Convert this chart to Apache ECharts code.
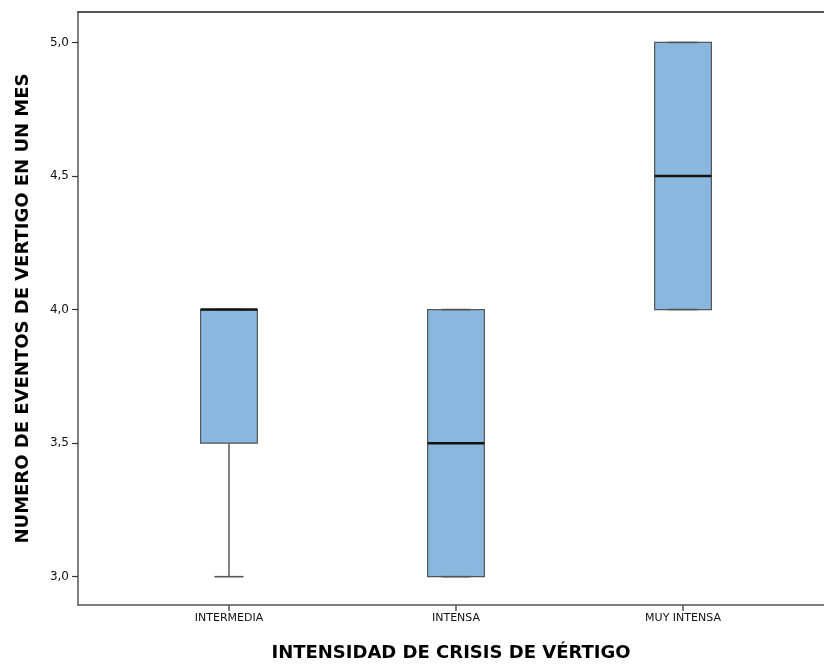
<!DOCTYPE html>
<html>
<head>
<meta charset="utf-8">
<script src="https://cdn.jsdelivr.net/npm/echarts@6/dist/echarts.min.js"></script>
<style>html,body{margin:0;padding:0;background:#fff}#c{width:824px;height:667px}</style>
</head>
<body>
<div id="c"></div>
<script>
const categories = ['INTERMEDIA', 'INTENSA', 'MUY INTENSA'];
const mins    = [3.0, 3.0, 4.0];
const q1s     = [3.5, 3.0, 4.0];
const medians = [4.0, 3.5, 4.5];
const q3s     = [4.0, 4.0, 5.0];
const maxs    = [4.0, 4.0, 5.0];
const yTicks  = [3.0, 3.5, 4.0, 4.5, 5.0];

const boxData = categories.map((c, i) => [i, mins[i], q1s[i], medians[i], q3s[i], maxs[i]]);

const chart = echarts.init(document.getElementById('c'));
const fontFam = '"DejaVu Sans", "Open Sans", sans-serif';

chart.setOption({
  animation: false,
  grid: { left: 78, right: 0, top: 12, bottom: 60 },
  xAxis: [{
    type: 'value',
    min: -0.665, max: 2.621,
    splitLine: { show: false },
    axisLine: { show: true, onZero: false, lineStyle: { color: '#555', width: 1.5 } },
    axisTick: { show: true, customValues: [0, 1, 2], length: 6, lineStyle: { color: '#555', width: 1.5 } },
    axisLabel: {
      customValues: [0, 1, 2],
      formatter: v => categories[Math.round(v)],
      color: '#111', fontSize: 11, fontFamily: fontFam, margin: 8
    },
    name: 'INTENSIDAD DE CRISIS DE VÉRTIGO',
    nameLocation: 'middle', nameGap: 39,
    nameTextStyle: { fontSize: 18, fontWeight: 'bold', color: '#000', fontFamily: fontFam }
  }, {
    type: 'value', position: 'top',
    min: -0.665, max: 2.621,
    splitLine: { show: false },
    axisLine: { show: true, onZero: false, lineStyle: { color: '#222', width: 1.5 } },
    axisTick: { show: false }, axisLabel: { show: false }
  }],
  yAxis: {
    type: 'value',
    min: 2.894, max: 5.114,
    splitLine: { show: false },
    axisLine: { show: true, onZero: false, lineStyle: { color: '#555', width: 1.5 } },
    axisTick: { show: true, customValues: yTicks, length: 6, lineStyle: { color: '#333', width: 1.2 } },
    axisLabel: {
      customValues: yTicks,
      formatter: v => v.toFixed(1).replace('.', ','),
      color: '#111', fontSize: 12, fontFamily: fontFam, margin: 9
    },
    name: 'NUMERO DE EVENTOS DE VERTIGO EN UN MES',
    nameLocation: 'middle', nameGap: 46,
    nameTextStyle: { fontSize: 18, fontWeight: 'bold', color: '#000', fontFamily: fontFam }
  },
  series: [{
    type: 'custom',
    xAxisIndex: 0,
    data: boxData,
    encode: { x: 0, y: [1, 2, 3, 4, 5] },
    renderItem: function (params, api) {
      const x = api.value(0);
      const vMin = api.value(1), vQ1 = api.value(2), vMed = api.value(3), vQ3 = api.value(4), vMax = api.value(5);
      const unit = api.size([1, 0])[0];
      const half = unit * 0.125;
      const capHalf = unit * 0.064;
      const pMin = api.coord([x, vMin]);
      const pQ1 = api.coord([x, vQ1]);
      const pMed = api.coord([x, vMed]);
      const pQ3 = api.coord([x, vQ3]);
      const pMax = api.coord([x, vMax]);
      const cx = pMed[0];
      const wStyle = { stroke: '#666', lineWidth: 1.6 };
      return {
        type: 'group',
        children: [
          { type: 'line', shape: { x1: cx, y1: pQ1[1], x2: cx, y2: pMin[1] }, style: wStyle },
          { type: 'line', shape: { x1: cx, y1: pQ3[1], x2: cx, y2: pMax[1] }, style: wStyle },
          { type: 'rect', shape: { x: cx - half, y: pQ3[1], width: half * 2, height: pQ1[1] - pQ3[1] },
            style: { fill: '#8ab7dd', stroke: '#555', lineWidth: 1.2 } },
          { type: 'line', shape: { x1: cx - capHalf, y1: pMin[1], x2: cx + capHalf, y2: pMin[1] }, style: { stroke: '#555', lineWidth: 1.6 } },
          { type: 'line', shape: { x1: cx - capHalf, y1: pMax[1], x2: cx + capHalf, y2: pMax[1] }, style: { stroke: '#555', lineWidth: 1.6 } },
          { type: 'line', shape: { x1: cx - half, y1: pMed[1], x2: cx + half, y2: pMed[1] }, style: { stroke: '#111', lineWidth: 2.5 } }
        ]
      };
    }
  }]
});
</script>
</body>
</html>
